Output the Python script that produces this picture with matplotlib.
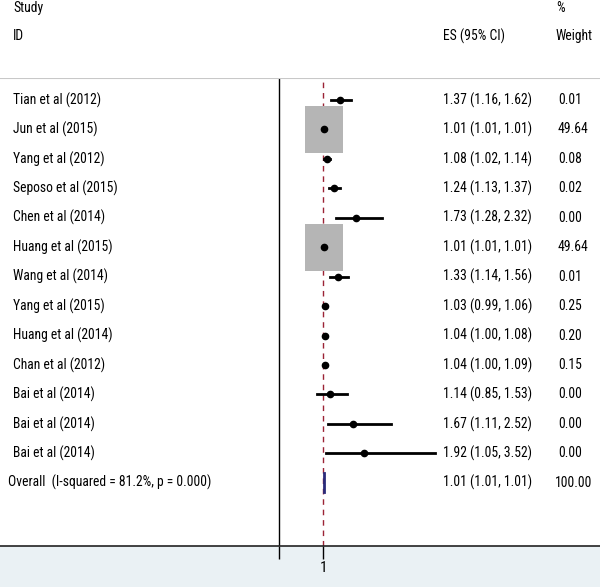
import matplotlib
matplotlib.use('Agg')
import matplotlib.pyplot as plt
from matplotlib.patches import Rectangle
from matplotlib.transforms import blended_transform_factory
import numpy as np

plt.rcParams['font.family'] = ['Roboto Condensed', 'Liberation Sans', 'DejaVu Sans']

# Study data
studies = ['Tian et al (2012)', 'Jun et al (2015)', 'Yang et al (2012)', 'Seposo et al (2015)',
           'Chen et al (2014)', 'Huang et al (2015)', 'Wang et al (2014)', 'Yang et al (2015)',
           'Huang et al (2014)', 'Chan et al (2012)', 'Bai et al (2014)', 'Bai et al (2014)',
           'Bai et al (2014)']
es = [1.37, 1.01, 1.08, 1.24, 1.73, 1.01, 1.33, 1.03, 1.04, 1.04, 1.14, 1.67, 1.92]
lo = [1.16, 1.01, 1.02, 1.13, 1.28, 1.01, 1.14, 0.99, 1.00, 1.00, 0.85, 1.11, 1.05]
hi = [1.62, 1.01, 1.14, 1.37, 2.32, 1.01, 1.56, 1.06, 1.08, 1.09, 1.53, 2.52, 3.52]
weights = [0.01, 49.64, 0.08, 0.02, 0.00, 49.64, 0.01, 0.25, 0.20, 0.15, 0.00, 0.00, 0.00]
overall_label = 'Overall  (I-squared = 81.2%, p = 0.000)'
overall_es, overall_lo, overall_hi, overall_wt = 1.01, 1.01, 1.01, 100.00

W, H = 600, 587
fig = plt.figure(figsize=(W / 100, H / 100), dpi=100)
fig.patch.set_facecolor('#eaf1f4')
# white header area
fig.patches.append(Rectangle((0, (H - 78) / H), 1, 78 / H, transform=fig.transFigure,
                             facecolor='white', edgecolor='none', zorder=0))

ax = fig.add_axes([0, (H - 546) / H, 1, (546 - 78) / H])
ax.set_facecolor('white')
px = 44.4  # pixels per unit
ax.set_xlim(-279 / px, (W - 279) / px)
row = 29.44
ax.set_ylim((546 - 100) / row, -22 / row)

for s in ['left', 'right']:
    ax.spines[s].set_visible(False)
ax.spines['top'].set_color('#c8c8c8')
ax.spines['top'].set_linewidth(1.5)
ax.spines['bottom'].set_color('#222222')
ax.spines['bottom'].set_linewidth(1.2)
ax.set_yticks([])
ax.set_xticks([0, 1])
ax.set_xticklabels(['', '1'], fontsize=11)
ax.tick_params(axis='x', direction='out', length=9, width=1, pad=2)

ax.axvline(0, color='black', lw=1)
ax.axvline(1, color='#9b2335', lw=1, ls=(0, (4, 3.5)), zorder=1)

y = np.arange(len(studies))
max_w = max(weights)
for i in range(len(studies)):
    f = np.sqrt(weights[i] / max_w)
    bw, bh = 0.86 * f, 1.59 * f
    if bw > 0:
        ax.add_patch(Rectangle((es[i] - bw / 2, y[i] - bh / 2), bw, bh,
                               facecolor='#b5b5b5', edgecolor='none', zorder=2))
    ax.plot([lo[i], hi[i]], [y[i], y[i]], color='black', lw=2, zorder=3)
    ax.plot(es[i], y[i], marker='o', color='black', ms=4.5, zorder=4)

oy = len(studies)
ax.plot([overall_es, overall_es], [oy - 0.33, oy + 0.33], color='#2a2a7a', lw=2, zorder=3)

tr = blended_transform_factory(ax.transAxes, ax.transData)
fs = 9.8
for i in range(len(studies)):
    ax.text(13 / W, y[i], studies[i], transform=tr, va='center', ha='left', fontsize=fs)
    ax.text(443 / W, y[i], f'{es[i]:.2f} ({lo[i]:.2f}, {hi[i]:.2f})', transform=tr,
            va='center', ha='left', fontsize=fs)
    ax.text(558 / W, y[i], f'{weights[i]:.2f}', transform=tr, va='center', ha='left', fontsize=fs)
ax.text(8 / W, oy, overall_label, transform=tr, va='center', ha='left', fontsize=fs)
ax.text(443 / W, oy, f'{overall_es:.2f} ({overall_lo:.2f}, {overall_hi:.2f})', transform=tr,
        va='center', ha='left', fontsize=fs)
ax.text(555 / W, oy, f'{overall_wt:.2f}', transform=tr, va='center', ha='left', fontsize=fs)

# header
fig.text(13 / W, 1 - 8 / H, 'Study', va='center', ha='left', fontsize=fs)
fig.text(13 / W, 1 - 36 / H, 'ID', va='center', ha='left', fontsize=fs)
fig.text(443 / W, 1 - 36 / H, 'ES (95% CI)', va='center', ha='left', fontsize=fs)
fig.text(556 / W, 1 - 8 / H, '%', va='center', ha='left', fontsize=fs)
fig.text(556 / W, 1 - 36 / H, 'Weight', va='center', ha='left', fontsize=fs)

fig.savefig('out.png', dpi=100, facecolor=fig.get_facecolor())
